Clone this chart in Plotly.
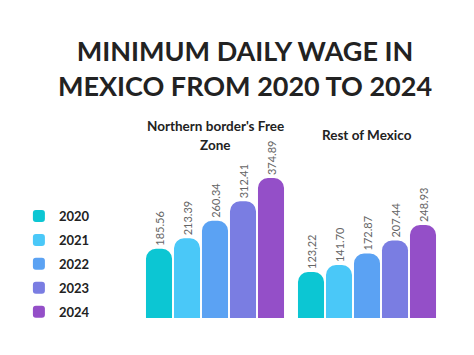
import plotly.graph_objects as go

regions = ["Northern border's Free<br>Zone", "Rest of Mexico"]
years = ["2020", "2021", "2022", "2023", "2024"]
northern = [185.56, 213.39, 260.34, 312.41, 374.89]
rest = [123.22, 141.70, 172.87, 207.44, 248.93]
northern_labels = ["185.56", "213.39", "260.34", "312.41", "374.89"]
rest_labels = ["123,22", "141.70", "172.87", "207.44", "248.93"]
colors = ["#0CC6D3", "#4AC8F8", "#5BA2F3", "#7A7DE2", "#944FC8"]

fig = go.Figure()
for i, y in enumerate(years):
    fig.add_trace(go.Bar(
        x=[0, 1], y=[northern[i], rest[i]], name="<b>" + y + "</b>", legendgroup=y,
        marker=dict(color=colors[i], line=dict(width=0)),
        text=[northern_labels[i], rest_labels[i]], textposition="outside",
        textangle=-90, cliponaxis=False, constraintext="none",
        textfont=dict(family="Lato", size=11, color="#666666"),
        hoverinfo="skip",
    ))

fig.update_layout(
    width=474, height=355,
    margin=dict(l=131, r=39, t=170, b=45, autoexpand=False),
    paper_bgcolor="white", plot_bgcolor="white",
    barmode="group", bargap=0.079, bargroupgap=0.07, barcornerradius=10,
    title=dict(text="<b>MINIMUM DAILY WAGE IN<br>MEXICO FROM 2020 TO 2024</b>",
               x=0.5, xanchor="center", y=0.85, yanchor="top",
               font=dict(family="Lato", size=27, color="#222222")),
    xaxis=dict(range=[-0.5, 1.5], visible=False, fixedrange=True),
    yaxis=dict(range=[0, 375], visible=False, fixedrange=True),
    legend=dict(xref="container", yref="container", x=0.023, xanchor="left",
                y=0.456, yanchor="top",
                font=dict(family="Lato", size=13, color="#222222"),
                tracegroupgap=4, itemwidth=30),
    showlegend=True,
)
for i, r in enumerate(regions):
    lines = r.split("<br>")
    if len(lines) == 2:
        ys = [1.372, 1.236]
    else:
        ys = [1.308]
    for line, yy in zip(lines, ys):
        fig.add_annotation(x=i, xref="x", y=yy, yref="paper", yanchor="middle",
                           text="<b>" + line + "</b>", showarrow=False,
                           font=dict(family="Lato", size=13.5, color="#222222"))
fig.write_html("out.html")
